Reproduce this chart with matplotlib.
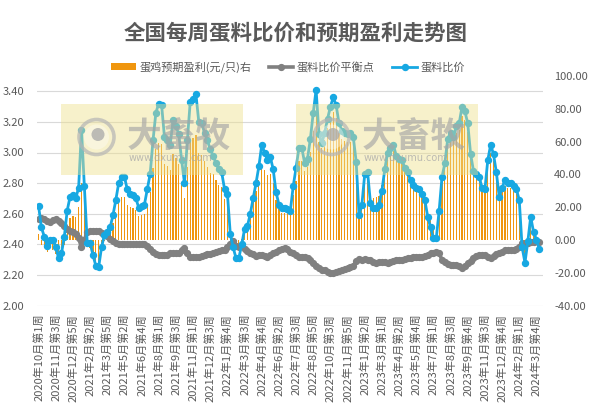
import matplotlib
matplotlib.use("Agg")
import matplotlib.pyplot as plt
from matplotlib.patches import Rectangle, Circle, Patch
from matplotlib.lines import Line2D

plt.rcParams['font.family'] = ['Noto Sans CJK SC', 'DejaVu Sans']

title = "全国每周蛋料比价和预期盈利走势图"
name_profit = "蛋鸡预期盈利(元/只)右"
name_balance = "蛋料比价平衡点"
name_ratio = "蛋料比价"

tick_labels = ["2020年10月第1周", "2020年11月第3周", "2020年12月第5周", "2021年2月第2周",
               "2021年3月第5周", "2021年5月第2周", "2021年6月第4周", "2021年8月第1周",
               "2021年9月第3周", "2021年11月第1周", "2021年12月第3周", "2022年1月第4周",
               "2022年3月第3周", "2022年4月第4周", "2022年6月第2周", "2022年7月第3周",
               "2022年8月第5周", "2022年10月第3周", "2022年11月第5周", "2023年1月第2周",
               "2023年3月第1周", "2023年4月第2周", "2023年5月第4周", "2023年7月第1周",
               "2023年8月第3周", "2023年9月第4周", "2023年11月第3周", "2023年12月第4周",
               "2024年2月第1周", "2024年3月第4周"]

ratio = [2.65, 2.51, 2.45, 2.39, 2.43, 2.43, 2.38, 2.31, 2.34, 2.45,
         2.62, 2.71, 2.72, 2.70, 2.77, 3.15, 2.78, 2.41, 2.41, 2.33,
         2.26, 2.25, 2.38, 2.46, 2.48, 2.51, 2.59, 2.69, 2.80, 2.84,
         2.84, 2.76, 2.73, 2.72, 2.70, 2.64, 2.65, 2.66, 2.76, 2.86,
         3.08, 3.26, 3.32, 3.31, 3.10, 3.08, 3.05, 3.21, 3.17, 3.12,
         2.95, 2.80, 3.08, 3.33, 3.35, 3.38, 3.20, 3.19, 3.13, 3.08,
         3.02, 2.98, 2.93, 2.89, 2.87, 2.76, 2.73, 2.47, 2.38, 2.31,
         2.31, 2.40, 2.50, 2.52, 2.60, 2.70, 2.80, 2.91, 3.05, 3.00,
         2.95, 2.97, 2.89, 2.74, 2.66, 2.64, 2.64, 2.63, 2.62, 2.78,
         2.90, 3.03, 3.03, 2.93, 2.96, 3.09, 3.26, 3.41, 3.12, 3.06,
         3.13, 3.22, 3.30, 3.36, 3.31, 3.19, 3.14, 3.13, 3.12, 3.13,
         3.10, 2.94, 2.59, 2.66, 2.86, 2.87, 2.67, 2.64, 2.64, 2.66,
         2.75, 2.89, 3.00, 3.03, 3.05, 2.98, 2.96, 2.95, 2.90, 2.87,
         2.82, 2.79, 2.77, 2.76, 2.73, 2.69, 2.58, 2.51, 2.44, 2.44,
         2.62, 2.84, 2.93, 3.09, 3.13, 3.10, 3.17, 3.19, 3.30, 3.27,
         3.19, 2.99, 2.88, 2.86, 2.84, 2.77, 2.76, 2.95, 3.05, 2.99,
         2.87, 2.71, 2.77, 2.82, 2.80, 2.80, 2.78, 2.76, 2.69, 2.38,
         2.28, 2.42, 2.58, 2.48, 2.43, 2.37]

balance = [2.565, 2.575, 2.565, 2.555, 2.545, 2.56, 2.565, 2.555, 2.54, 2.52,
           2.50, 2.487, 2.48, 2.465, 2.44, 2.38, 2.43, 2.48, 2.49, 2.49,
           2.49, 2.485, 2.476, 2.47, 2.455, 2.435, 2.42, 2.41, 2.40, 2.40,
           2.40, 2.40, 2.40, 2.40, 2.40, 2.40, 2.40, 2.40, 2.39, 2.37,
           2.35, 2.335, 2.33, 2.33, 2.33, 2.33, 2.34, 2.34, 2.34, 2.345,
           2.36, 2.375, 2.34, 2.32, 2.315, 2.315, 2.32, 2.325, 2.33, 2.335,
           2.335, 2.34, 2.35, 2.355, 2.36, 2.365, 2.38, 2.40, 2.42, 2.39,
           2.38, 2.39, 2.37, 2.355, 2.345, 2.335, 2.325, 2.33, 2.33, 2.325,
           2.32, 2.33, 2.34, 2.35, 2.36, 2.37, 2.375, 2.37, 2.35, 2.34,
           2.33, 2.32, 2.32, 2.315, 2.31, 2.30, 2.28, 2.26, 2.245, 2.235,
           2.23, 2.22, 2.215, 2.212, 2.22, 2.228, 2.234, 2.238, 2.242, 2.25,
           2.26, 2.29, 2.305, 2.30, 2.305, 2.30, 2.295, 2.285, 2.28, 2.283,
           2.287, 2.283, 2.278, 2.283, 2.29, 2.295, 2.30, 2.30, 2.305, 2.31,
           2.313, 2.318, 2.32, 2.318, 2.32, 2.326, 2.333, 2.34, 2.345, 2.352,
           2.34, 2.30, 2.285, 2.27, 2.265, 2.263, 2.262, 2.255, 2.245, 2.255,
           2.275, 2.29, 2.31, 2.322, 2.328, 2.33, 2.33, 2.32, 2.312, 2.325,
           2.335, 2.345, 2.35, 2.36, 2.36, 2.36, 2.365, 2.37, 2.385, 2.41,
           2.405, 2.41, 2.415, 2.415, 2.42, 2.415]

profit = [3.8, -2.9, -5.2, -7.4, -5.2, -5.9, -8.3, -11.0, -9.0, -3.2,
          7.2, 13.4, 14.4, 14.1, 19.8, 35.0, 21.0, -4.2, -4.8, -9.6,
          -13.8, -14.1, -5.8, -0.6, 1.5, 4.5, 10.2, 16.8, 24.0, 26.4,
          26.4, 21.6, 19.8, 19.2, 18.0, 14.4, 15.0, 15.6, 22.2, 29.4,
          43.8, 55.5, 59.4, 58.8, 46.2, 45.0, 42.6, 52.2, 49.8, 46.5,
          35.4, 25.5, 44.4, 60.6, 62.1, 63.9, 52.8, 51.9, 48.0, 44.7,
          41.1, 40.3, 36.5, 33.7, 32.1, 24.9, 22.1, 4.1, -2.5, -5.0,
          -4.7, 0.6, 8.2, 10.1, 16.1, 23.0, 29.9, 36.5, 45.4, 42.5,
          39.7, 40.3, 34.7, 24.6, 18.6, 16.7, 16.7, 16.4, 17.0, 27.7,
          35.9, 48.3, 48.3, 41.8, 44.2, 53.7, 66.6, 78.2, 59.5, 56.1,
          60.9, 68.0, 73.8, 78.1, 74.1, 65.4, 61.6, 60.3, 59.7, 59.8,
          57.1, 44.2, 19.0, 24.5, 37.7, 38.8, 27.0, 25.6, 25.9, 27.1,
          33.3, 43.3, 52.0, 53.8, 54.5, 49.3, 47.5, 46.8, 42.8, 40.3,
          36.5, 34.0, 32.4, 31.5, 29.5, 26.2, 17.8, 12.2, 7.1, 6.6,
          20.2, 38.9, 46.4, 59.0, 62.3, 60.3, 65.4, 67.3, 75.7, 73.1,
          65.9, 50.4, 41.0, 38.7, 36.9, 31.7, 31.0, 45.4, 53.1, 47.9,
          38.5, 26.3, 30.2, 33.1, 31.7, 31.7, 29.9, 28.1, 22.0, -2.2,
          -9.0, 0.7, 11.5, 4.7, 0.7, -3.2]

left_ticks = [2.0, 2.2, 2.4, 2.6, 2.8, 3.0, 3.2, 3.4]
right_ticks = [-40, -20, 0, 20, 40, 60, 80, 100]

C_TEXT = '#595959'
C_BAR = '#F0960E'
C_GRAY = '#808080'
C_BLUE = '#17A8E2'

W, H = 596, 413
fig = plt.figure(figsize=(W / 100, H / 100), dpi=100)
fig.patch.set_facecolor('white')

pos = [37 / W, 1 - 305.5 / H, (543 - 37) / W, (305.5 - 76) / H]
n = len(ratio)
xs = list(range(n))

ax = fig.add_axes(pos)
ax.set_zorder(1)
ax.set_xlim(-0.55, n + 0.3)
ax.set_ylim(2.0, 3.5)
ax.set_yticks(left_ticks)
ax.set_yticklabels([f"{v:.2f}" for v in left_ticks])
ax.grid(axis='y', color='#D9D9D9', linewidth=0.8)
ax.set_xticks(list(range(0, n, 6))[:len(tick_labels)])
ax.set_xticklabels(tick_labels, rotation=90, fontsize=8, color=C_TEXT)
ax.tick_params(axis='both', length=0, colors=C_TEXT, labelsize=8)
ax.tick_params(axis='y', pad=9.5)
ax.tick_params(axis='x', pad=6)
for s in ax.spines.values():
    s.set_visible(False)

ax2 = ax.twinx()
ax2.set_zorder(2)
ax2.patch.set_visible(False)
ax2.set_ylim(-40, 100)
ax2.set_yticks(right_ticks)
ax2.set_yticklabels([f"{v:.2f}" for v in right_ticks])
ax2.tick_params(axis='y', length=0, colors=C_TEXT, labelsize=8, pad=8)
for s in ax2.spines.values():
    s.set_visible(False)
ax2.bar(xs, profit, width=0.42, color=C_BAR, linewidth=0)

ax3 = fig.add_axes(pos, sharex=ax, sharey=ax)
ax3.set_zorder(3)
ax3.patch.set_visible(False)
ax3.axis('off')
ax3.plot(xs, balance, color=C_GRAY, linewidth=2.6, marker='o', markersize=4.2,
         markerfacecolor=C_GRAY, markeredgecolor=C_GRAY, solid_capstyle='round')
ax3.plot(xs, ratio, color=C_BLUE, linewidth=2.0, marker='o', markersize=4.3,
         markerfacecolor=C_BLUE, markeredgecolor=C_BLUE)

# watermark overlays
wm = fig.add_axes([0, 0, 1, 1])
wm.set_zorder(4)
wm.patch.set_visible(False)
wm.axis('off')
wm.set_xlim(0, W)
wm.set_ylim(H, 0)
for x0 in (61, 296):
    wm.add_patch(Rectangle((x0, 104), 182, 71, facecolor='#EEE08C', alpha=0.45,
                           edgecolor='none'))
    wm.add_patch(Circle((x0 + 35.5, 137), 17.5, facecolor='none', edgecolor='#B5B5B5',
                        linewidth=2.6, alpha=0.7))
    wm.add_patch(Circle((x0 + 35.5, 137), 12.5, facecolor='white', edgecolor='none',
                        alpha=0.35))
    wm.add_patch(Circle((x0 + 37, 134.5), 6.5, facecolor='#A8A8A8', edgecolor='none',
                        alpha=0.75))
    wm.text(x0 + 66, 136, "大畜牧", fontsize=25, color='#A5A5A5', alpha=0.65,
            ha='left', va='center', fontweight='bold')
    wm.text(x0 + 68, 158, "www.dxumu.com", fontsize=7, color='#A8A8A8', alpha=0.75,
            ha='left', va='center', family=['DejaVu Sans'])

fig.text(296 / W, 1 - 33 / H, title, ha='center', va='center', fontsize=15.5,
         fontweight='bold', color=C_TEXT)

handles = [Patch(facecolor=C_BAR, edgecolor='none'),
           Line2D([0], [0], color=C_GRAY, linewidth=2.6, marker='o', markersize=4.2),
           Line2D([0], [0], color=C_BLUE, linewidth=2.0, marker='o', markersize=4.3)]
leg = fig.legend(handles, [name_profit, name_balance, name_ratio], loc='center',
                 bbox_to_anchor=(288 / W, 1 - 67 / H), ncol=3, frameon=False,
                 fontsize=8, handlelength=2.2, handleheight=0.6, columnspacing=1.6,
                 handletextpad=0.3)
for t in leg.get_texts():
    t.set_color(C_TEXT)

fig.savefig('out.png', dpi=100, facecolor='white')
